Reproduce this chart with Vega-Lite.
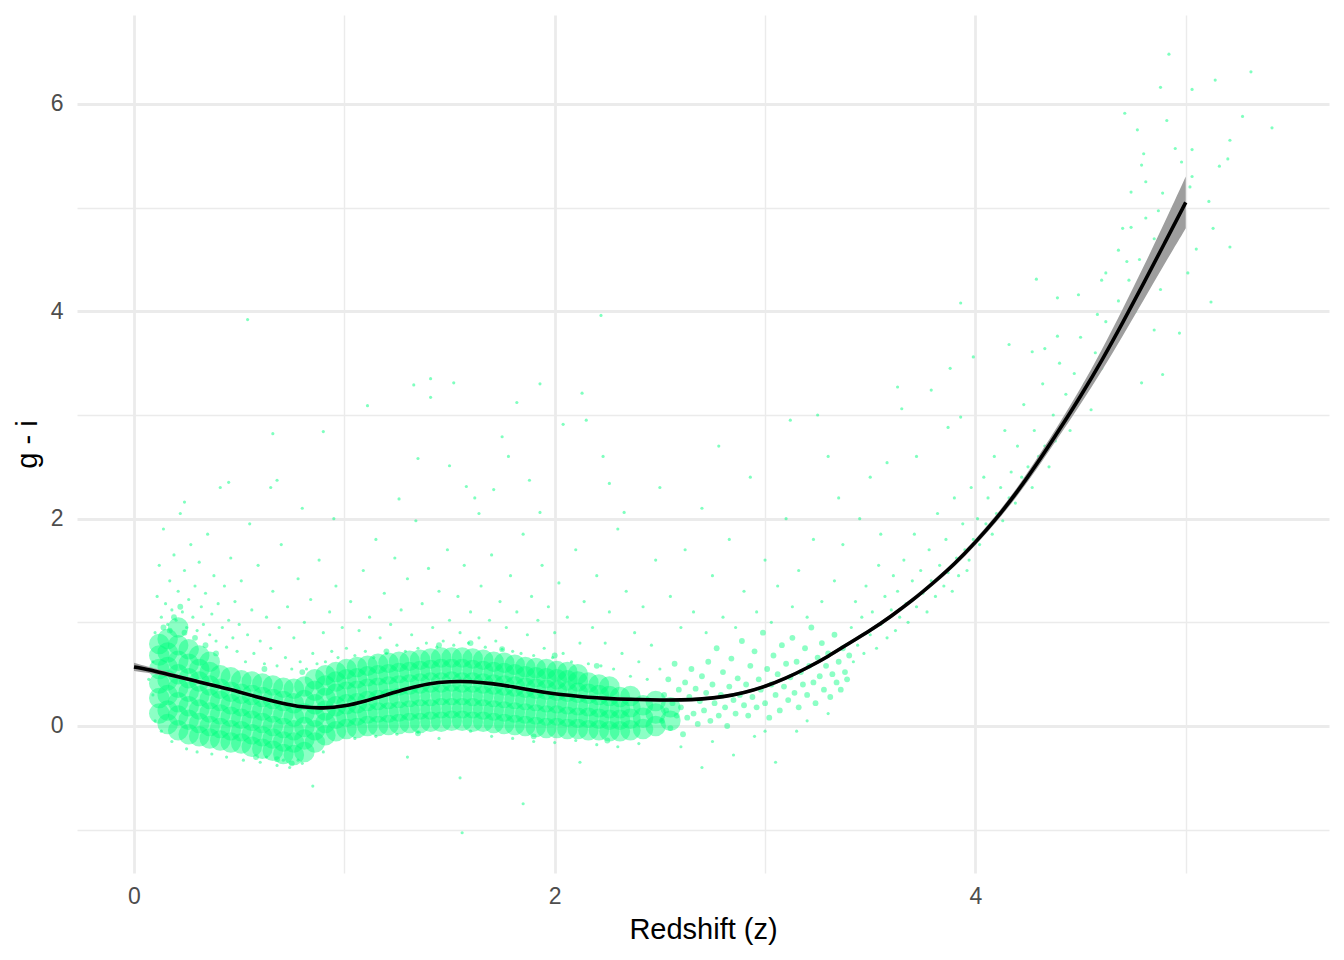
{
"$schema":"https://vega.github.io/schema/vega-lite/v6.json",
"width":1252,"height":858,
"autosize":{"type":"none"},
"padding":{"left":77,"top":15,"right":15,"bottom":87},
"background":"white",
"config":{"view":{"stroke":null},"font":"Liberation Sans"},
"datasets":{
"scatter":[
{"z":0.09,"gi":0.62},{"z":0.1,"gi":0.9},{"z":0.11,"gi":1.25},{"z":0.12,"gi":1.55},{"z":0.13,"gi":1.05},{"z":0.14,"gi":1.9},{"z":0.15,"gi":1.18},{"z":0.16,"gi":0.98},{"z":0.17,"gi":1.4},{"z":0.18,"gi":1.12},{"z":0.19,"gi":1.65},{"z":0.2,"gi":1.02},{"z":0.21,"gi":1.3},{"z":0.22,"gi":2.05},{"z":0.23,"gi":1.1},{"z":0.24,"gi":1.5},{"z":0.25,"gi":0.95},{"z":0.26,"gi":1.22},{"z":0.27,"gi":1.75},{"z":0.28,"gi":1.05},{"z":0.29,"gi":1.35},{"z":0.3,"gi":0.92},{"z":0.31,"gi":1.58},{"z":0.32,"gi":1.15},{"z":0.33,"gi":0.98},{"z":0.34,"gi":1.28},{"z":0.35,"gi":1.85},{"z":0.36,"gi":0.88},{"z":0.37,"gi":1.08},{"z":0.38,"gi":1.45},{"z":0.39,"gi":0.82},{"z":0.4,"gi":1.18},{"z":0.41,"gi":2.3},{"z":0.42,"gi":0.95},{"z":0.43,"gi":1.35},{"z":0.44,"gi":0.76},{"z":0.45,"gi":1.02},{"z":0.46,"gi":1.62},{"z":0.47,"gi":0.85},{"z":0.48,"gi":1.2},{"z":0.49,"gi":0.72},{"z":0.5,"gi":0.98},
{"z":0.13,"gi":-0.05},{"z":0.18,"gi":-0.15},{"z":0.25,"gi":-0.22},{"z":0.3,"gi":-0.25},{"z":0.37,"gi":-0.27},{"z":0.44,"gi":-0.3},{"z":0.09,"gi":0.3},{"z":0.07,"gi":0.45},{"z":0.1,"gi":0.05},
{"z":0.51,"gi":1.4},{"z":0.53,"gi":0.62},{"z":0.54,"gi":0.88},{"z":0.56,"gi":1.12},{"z":0.57,"gi":0.7},{"z":0.59,"gi":1.55},{"z":0.6,"gi":0.82},{"z":0.62,"gi":0.6},{"z":0.63,"gi":1.05},{"z":0.65,"gi":0.75},{"z":0.66,"gi":1.3},{"z":0.68,"gi":0.58},{"z":0.69,"gi":0.95},{"z":0.7,"gi":1.75},{"z":0.72,"gi":0.66},{"z":0.73,"gi":1.15},{"z":0.75,"gi":0.55},{"z":0.76,"gi":0.85},{"z":0.78,"gi":1.42},{"z":0.79,"gi":0.62},{"z":0.81,"gi":1.0},{"z":0.82,"gi":0.55},{"z":0.84,"gi":1.22},{"z":0.85,"gi":0.7},{"z":0.87,"gi":0.6},{"z":0.88,"gi":1.6},{"z":0.9,"gi":0.9},{"z":0.91,"gi":0.62},{"z":0.93,"gi":1.1},{"z":0.94,"gi":0.72},{"z":0.96,"gi":1.35},{"z":0.97,"gi":0.66},{"z":0.99,"gi":0.95},{"z":0.65,"gi":2.3},{"z":0.8,"gi":2.1},{"z":0.55,"gi":1.95},{"z":0.95,"gi":2.0},
{"z":0.52,"gi":-0.33},{"z":0.6,"gi":-0.35},{"z":0.68,"gi":-0.38},{"z":0.74,"gi":-0.4},{"z":0.8,"gi":-0.36},{"z":0.85,"gi":-0.58},{"z":0.9,"gi":-0.25},{"z":0.63,"gi":-0.3},{"z":0.71,"gi":-0.33},{"z":0.78,"gi":-0.33},
{"z":1.01,"gi":0.75},{"z":1.03,"gi":1.2},{"z":1.05,"gi":0.68},{"z":1.07,"gi":0.92},{"z":1.09,"gi":1.5},{"z":1.1,"gi":0.72},{"z":1.12,"gi":1.05},{"z":1.14,"gi":0.66},{"z":1.15,"gi":1.8},{"z":1.17,"gi":0.85},{"z":1.19,"gi":1.28},{"z":1.2,"gi":0.7},{"z":1.22,"gi":0.98},{"z":1.24,"gi":1.62},{"z":1.25,"gi":0.78},{"z":1.27,"gi":1.12},{"z":1.29,"gi":0.72},{"z":1.3,"gi":1.42},{"z":1.32,"gi":0.88},{"z":1.34,"gi":1.98},{"z":1.35,"gi":0.75},{"z":1.37,"gi":1.18},{"z":1.39,"gi":0.8},{"z":1.4,"gi":1.52},{"z":1.42,"gi":0.95},{"z":1.44,"gi":0.76},{"z":1.45,"gi":1.3},{"z":1.47,"gi":0.82},{"z":1.49,"gi":1.7},{"z":1.5,"gi":1.02},{"z":1.52,"gi":0.78},{"z":1.54,"gi":1.25},{"z":1.55,"gi":0.9},{"z":1.57,"gi":1.55},{"z":1.59,"gi":0.8},{"z":1.6,"gi":1.1},{"z":1.62,"gi":2.2},{"z":1.64,"gi":0.85},{"z":1.65,"gi":1.35},{"z":1.67,"gi":0.76},{"z":1.69,"gi":1.02},{"z":1.7,"gi":1.65},{"z":1.72,"gi":0.82},{"z":1.74,"gi":1.2},{"z":1.75,"gi":0.74},{"z":1.77,"gi":0.95},{"z":1.79,"gi":1.45},{"z":1.8,"gi":0.72},{"z":1.82,"gi":1.1},{"z":1.84,"gi":0.7},{"z":1.85,"gi":1.85},{"z":1.87,"gi":0.88},{"z":1.89,"gi":1.25},{"z":1.9,"gi":0.68},{"z":1.92,"gi":1.02},{"z":1.94,"gi":1.55},{"z":1.95,"gi":0.75},{"z":1.97,"gi":1.15},{"z":1.99,"gi":0.66},{"z":2.0,"gi":0.9},{"z":2.02,"gi":1.38},{"z":2.04,"gi":0.7},{"z":2.06,"gi":1.05},{"z":2.08,"gi":0.62},{"z":2.1,"gi":1.7},{"z":2.12,"gi":0.8},{"z":2.14,"gi":1.2},{"z":2.16,"gi":0.6},{"z":2.18,"gi":0.95},{"z":2.2,"gi":1.45},{"z":2.22,"gi":0.58},{"z":2.24,"gi":0.8},{"z":2.26,"gi":1.1},{"z":2.28,"gi":0.55},{"z":2.3,"gi":1.9},{"z":2.32,"gi":0.7},{"z":2.34,"gi":1.3},{"z":2.36,"gi":0.48},{"z":2.38,"gi":0.9},{"z":2.4,"gi":0.62},{"z":2.42,"gi":1.15},{"z":2.44,"gi":0.45},{"z":2.46,"gi":0.78},{"z":2.48,"gi":1.6},{"z":2.5,"gi":0.55},
{"z":1.05,"gi":-0.12},{"z":1.15,"gi":-0.1},{"z":1.25,"gi":-0.08},{"z":1.35,"gi":-0.06},{"z":1.45,"gi":-0.12},{"z":1.55,"gi":-0.5},{"z":1.6,"gi":-0.05},{"z":1.7,"gi":-0.1},{"z":1.8,"gi":-0.12},{"z":1.9,"gi":-0.15},{"z":2.0,"gi":-0.16},{"z":2.1,"gi":-0.14},{"z":2.2,"gi":-0.18},{"z":2.3,"gi":-0.2},{"z":1.85,"gi":-0.75},{"z":2.4,"gi":-0.17},{"z":1.56,"gi":-1.03},{"z":2.12,"gi":-0.35},{"z":1.3,"gi":-0.3},
{"z":0.54,"gi":3.92},{"z":0.66,"gi":2.82},{"z":0.9,"gi":2.84},{"z":0.45,"gi":2.35},{"z":0.68,"gi":2.37},{"z":0.24,"gi":2.16},{"z":1.33,"gi":3.29},{"z":1.41,"gi":3.35},{"z":1.52,"gi":3.31},{"z":1.41,"gi":3.17},{"z":1.11,"gi":3.09},{"z":1.82,"gi":3.12},{"z":1.93,"gi":3.3},{"z":2.22,"gi":3.96},{"z":2.13,"gi":3.21},{"z":1.75,"gi":2.79},{"z":1.78,"gi":2.6},{"z":1.35,"gi":2.58},{"z":1.5,"gi":2.51},{"z":1.88,"gi":2.37},{"z":2.26,"gi":2.34},{"z":1.58,"gi":2.31},{"z":1.71,"gi":2.28},{"z":1.26,"gi":2.19},{"z":1.64,"gi":2.05},{"z":1.93,"gi":2.06},{"z":2.04,"gi":2.91},{"z":2.15,"gi":2.95},{"z":2.23,"gi":2.6},{"z":2.33,"gi":2.06},
{"z":2.55,"gi":1.25},{"z":2.6,"gi":0.95},{"z":2.62,"gi":1.7},{"z":2.66,"gi":1.1},{"z":2.7,"gi":2.1},{"z":2.72,"gi":0.9},{"z":2.75,"gi":1.45},{"z":2.8,"gi":1.05},{"z":2.83,"gi":1.8},{"z":2.86,"gi":0.95},{"z":2.9,"gi":1.3},{"z":2.93,"gi":2.4},{"z":2.96,"gi":1.1},{"z":3.0,"gi":1.6},{"z":3.03,"gi":1.0},{"z":3.06,"gi":1.35},{"z":3.1,"gi":2.0},{"z":3.13,"gi":1.15},{"z":3.16,"gi":1.5},{"z":3.2,"gi":1.05},{"z":3.23,"gi":1.8},{"z":3.27,"gi":1.2},{"z":3.3,"gi":2.6},{"z":3.33,"gi":1.4},{"z":3.37,"gi":1.75},{"z":3.12,"gi":2.95},{"z":2.78,"gi":2.7},{"z":3.25,"gi":3.0},{"z":2.5,"gi":2.3},{"z":3.45,"gi":2.0},{"z":3.5,"gi":2.4},{"z":3.55,"gi":1.85},{"z":3.35,"gi":2.2},
{"z":2.6,"gi":-0.2},{"z":2.75,"gi":-0.15},{"z":2.95,"gi":-0.1},{"z":3.15,"gi":-0.05},{"z":2.85,"gi":-0.28},{"z":3.05,"gi":-0.35},{"z":2.7,"gi":-0.4},{"z":3.2,"gi":0.05},{"z":3.3,"gi":0.12},{"z":3.0,"gi":-0.05},
{"z":3.41,"gi":0.95},{"z":3.42,"gi":0.62},{"z":3.43,"gi":1.2},{"z":3.44,"gi":0.78},{"z":3.46,"gi":1.05},{"z":3.47,"gi":0.7},{"z":3.48,"gi":1.35},{"z":3.5,"gi":0.88},{"z":3.51,"gi":1.1},{"z":3.53,"gi":0.75},{"z":3.54,"gi":1.55},{"z":3.55,"gi":0.98},{"z":3.57,"gi":1.25},{"z":3.58,"gi":0.85},{"z":3.6,"gi":1.12},{"z":3.61,"gi":1.45},{"z":3.62,"gi":0.92},
{"z":3.63,"gi":1.3},{"z":3.64,"gi":1.05},{"z":3.66,"gi":1.6},{"z":3.67,"gi":1.18},{"z":3.68,"gi":1.0},{"z":3.7,"gi":1.4},{"z":3.71,"gi":1.85},{"z":3.72,"gi":1.15},{"z":3.74,"gi":1.5},{"z":3.75,"gi":1.28},{"z":3.77,"gi":1.1},{"z":3.78,"gi":1.7},{"z":3.79,"gi":1.4},{"z":3.81,"gi":1.25},{"z":3.82,"gi":2.05},{"z":3.83,"gi":1.55},{"z":3.85,"gi":1.35},{"z":3.86,"gi":1.8},{"z":3.87,"gi":1.48},{"z":3.89,"gi":1.3},{"z":3.9,"gi":2.2},{"z":3.91,"gi":1.62},{"z":3.92,"gi":1.45},{"z":3.94,"gi":1.95},{"z":3.95,"gi":1.7},{"z":3.96,"gi":1.5},{"z":3.98,"gi":2.3},{"z":3.99,"gi":1.8},{"z":3.97,"gi":1.6},
{"z":4.01,"gi":2.0},{"z":4.02,"gi":1.75},{"z":4.04,"gi":2.4},{"z":4.05,"gi":1.95},{"z":4.06,"gi":2.2},{"z":4.08,"gi":1.85},{"z":4.09,"gi":2.6},{"z":4.1,"gi":2.05},{"z":4.12,"gi":2.3},{"z":4.13,"gi":1.98},{"z":4.14,"gi":2.85},{"z":4.16,"gi":2.2},{"z":4.17,"gi":2.45},{"z":4.19,"gi":2.15},{"z":4.2,"gi":2.7},{"z":4.22,"gi":2.4},{"z":4.23,"gi":3.1},{"z":4.25,"gi":2.5},{"z":4.27,"gi":2.3},{"z":4.28,"gi":2.85},{"z":4.3,"gi":2.6},{"z":4.32,"gi":3.3},{"z":4.33,"gi":2.7},{"z":4.35,"gi":2.5},{"z":4.37,"gi":3.0},{"z":4.38,"gi":2.75},{"z":4.4,"gi":3.5},{"z":4.42,"gi":2.95},{"z":4.43,"gi":3.2},{"z":4.45,"gi":2.85},{"z":4.47,"gi":3.4},{"z":4.48,"gi":3.1},{"z":4.5,"gi":3.75},
{"z":4.52,"gi":3.3},{"z":4.55,"gi":3.05},{"z":4.57,"gi":3.6},{"z":4.6,"gi":3.45},{"z":4.62,"gi":3.9},{"z":4.65,"gi":3.7},{"z":4.68,"gi":4.1},{"z":4.7,"gi":3.85},{"z":4.73,"gi":4.3},{"z":4.76,"gi":4.0},{"z":4.78,"gi":4.5},{"z":4.82,"gi":4.35},{"z":4.85,"gi":4.7},{"z":4.9,"gi":4.5},{"z":4.93,"gi":4.95},{"z":4.97,"gi":4.8},{"z":5.02,"gi":5.2},{"z":5.05,"gi":4.6},
{"z":4.92,"gi":6.48},{"z":4.88,"gi":6.16},{"z":5.14,"gi":6.23},{"z":5.31,"gi":6.31},{"z":5.03,"gi":6.14},{"z":4.71,"gi":5.91},{"z":4.77,"gi":5.75},{"z":4.91,"gi":5.84},{"z":5.27,"gi":5.88},{"z":5.41,"gi":5.77},{"z":4.95,"gi":5.57},{"z":5.03,"gi":5.56},{"z":5.21,"gi":5.65},{"z":4.8,"gi":5.52},{"z":5.2,"gi":5.47},{"z":5.16,"gi":5.4},{"z":4.79,"gi":5.41},{"z":4.98,"gi":5.44},{"z":5.03,"gi":5.3},{"z":4.81,"gi":5.25},{"z":4.74,"gi":5.15},{"z":4.89,"gi":5.14},{"z":5.11,"gi":5.06},{"z":4.87,"gi":4.97},{"z":4.81,"gi":4.9},{"z":5.13,"gi":4.8},{"z":4.74,"gi":4.81},{"z":4.7,"gi":4.8},{"z":5.21,"gi":4.62},{"z":4.68,"gi":4.59},{"z":4.72,"gi":4.48},{"z":4.62,"gi":4.37},{"z":4.88,"gi":4.5},{"z":5.01,"gi":4.37},{"z":4.84,"gi":4.3},{"z":4.6,"gi":4.3},{"z":4.29,"gi":4.31},{"z":4.49,"gi":4.16},{"z":4.39,"gi":4.13},{"z":4.88,"gi":4.21},{"z":5.12,"gi":4.09},{"z":3.93,"gi":4.08},{"z":4.85,"gi":3.82},{"z":4.97,"gi":3.79},{"z":4.58,"gi":3.97},{"z":4.39,"gi":3.76},{"z":4.16,"gi":3.68},{"z":4.27,"gi":3.61},{"z":4.33,"gi":3.64},{"z":3.88,"gi":3.45},{"z":3.63,"gi":3.27},{"z":3.79,"gi":3.24},{"z":3.65,"gi":3.06},{"z":3.99,"gi":3.56},{"z":3.93,"gi":2.98},{"z":3.87,"gi":2.88},{"z":3.72,"gi":2.6},{"z":3.58,"gi":2.54},{"z":4.89,"gi":3.39},{"z":4.79,"gi":3.31}
],
"mid":[
{"z":2.51,"gi":0.05},{"z":2.52,"gi":0.3},{"z":2.53,"gi":0.15},{"z":2.54,"gi":0.45},{"z":2.55,"gi":-0.02},{"z":2.56,"gi":0.22},{"z":2.57,"gi":0.6},{"z":2.58,"gi":0.1},{"z":2.59,"gi":0.35},{"z":2.6,"gi":0.18},{"z":2.61,"gi":-0.08},{"z":2.62,"gi":0.42},{"z":2.63,"gi":0.08},{"z":2.64,"gi":0.28},{"z":2.65,"gi":0.55},{"z":2.66,"gi":0.12},{"z":2.67,"gi":0.36},{"z":2.68,"gi":0.02},{"z":2.69,"gi":0.24},{"z":2.7,"gi":0.48},
{"z":2.71,"gi":0.15},{"z":2.72,"gi":0.32},{"z":2.73,"gi":0.62},{"z":2.74,"gi":0.05},{"z":2.75,"gi":0.4},{"z":2.76,"gi":0.22},{"z":2.77,"gi":0.75},{"z":2.78,"gi":0.1},{"z":2.79,"gi":0.3},{"z":2.8,"gi":0.52},{"z":2.81,"gi":0.18},{"z":2.82,"gi":0.0},{"z":2.83,"gi":0.38},{"z":2.84,"gi":0.65},{"z":2.85,"gi":0.25},{"z":2.86,"gi":0.12},{"z":2.87,"gi":0.46},{"z":2.88,"gi":0.3},{"z":2.89,"gi":0.82},{"z":2.9,"gi":0.2},
{"z":2.91,"gi":0.4},{"z":2.92,"gi":0.1},{"z":2.93,"gi":0.58},{"z":2.94,"gi":0.28},{"z":2.95,"gi":0.72},{"z":2.96,"gi":0.18},{"z":2.97,"gi":0.45},{"z":2.98,"gi":0.35},{"z":2.99,"gi":0.9},{"z":3.0,"gi":0.22},{"z":3.01,"gi":0.55},{"z":3.02,"gi":0.08},{"z":3.03,"gi":0.4},{"z":3.04,"gi":0.68},{"z":3.05,"gi":0.3},{"z":3.06,"gi":0.5},{"z":3.07,"gi":0.15},{"z":3.08,"gi":0.78},{"z":3.09,"gi":0.38},{"z":3.1,"gi":0.6},
{"z":3.11,"gi":0.25},{"z":3.12,"gi":0.47},{"z":3.13,"gi":0.85},{"z":3.14,"gi":0.32},{"z":3.15,"gi":0.62},{"z":3.16,"gi":0.18},{"z":3.17,"gi":0.52},{"z":3.18,"gi":0.4},{"z":3.19,"gi":0.75},{"z":3.2,"gi":0.3},{"z":3.21,"gi":0.58},{"z":3.22,"gi":0.95},{"z":3.23,"gi":0.42},{"z":3.24,"gi":0.22},{"z":3.25,"gi":0.66},{"z":3.26,"gi":0.48},{"z":3.27,"gi":0.8},{"z":3.28,"gi":0.35},{"z":3.29,"gi":0.58},{"z":3.3,"gi":0.7},{"z":3.31,"gi":0.28},{"z":3.32,"gi":0.5},{"z":3.33,"gi":0.88},{"z":3.34,"gi":0.42},{"z":3.35,"gi":0.62},{"z":3.36,"gi":0.35},{"z":3.37,"gi":0.75},{"z":3.38,"gi":0.52},{"z":3.39,"gi":0.45},{"z":3.4,"gi":0.68},
{"z":0.14,"gi":0.95},{"z":0.19,"gi":1.05},{"z":0.24,"gi":0.9},{"z":0.29,"gi":0.85},{"z":0.34,"gi":0.78},{"z":0.39,"gi":0.7},{"z":0.22,"gi":1.15},{"z":0.17,"gi":0.92},{"z":0.58,"gi":-0.3},{"z":0.68,"gi":-0.32},{"z":0.75,"gi":-0.36},{"z":0.62,"gi":0.55},{"z":0.8,"gi":0.52},{"z":1.2,"gi":0.72},{"z":1.45,"gi":0.78},{"z":1.6,"gi":0.8},{"z":1.75,"gi":0.74},{"z":2.0,"gi":0.68},{"z":2.2,"gi":0.58},{"z":1.35,"gi":-0.07},{"z":1.9,"gi":-0.1},{"z":2.25,"gi":-0.14}
],
"core":[
{"z":0.12,"gi":0.12},{"z":0.12,"gi":0.27},{"z":0.12,"gi":0.41},{"z":0.12,"gi":0.55},{"z":0.12,"gi":0.68},{"z":0.12,"gi":0.79},
{"z":0.16,"gi":0.02},{"z":0.16,"gi":0.15},{"z":0.16,"gi":0.3},{"z":0.16,"gi":0.44},{"z":0.16,"gi":0.57},{"z":0.16,"gi":0.71},{"z":0.16,"gi":0.84},
{"z":0.21,"gi":-0.04},{"z":0.21,"gi":0.1},{"z":0.21,"gi":0.23},{"z":0.21,"gi":0.37},{"z":0.21,"gi":0.5},{"z":0.21,"gi":0.63},{"z":0.21,"gi":0.78},{"z":0.21,"gi":0.95},
{"z":0.26,"gi":-0.08},{"z":0.26,"gi":0.06},{"z":0.26,"gi":0.19},{"z":0.26,"gi":0.33},{"z":0.26,"gi":0.46},{"z":0.26,"gi":0.6},{"z":0.26,"gi":0.74},
{"z":0.31,"gi":-0.1},{"z":0.31,"gi":0.03},{"z":0.31,"gi":0.16},{"z":0.31,"gi":0.29},{"z":0.31,"gi":0.43},{"z":0.31,"gi":0.55},{"z":0.31,"gi":0.68},
{"z":0.36,"gi":-0.12},{"z":0.36,"gi":0.0},{"z":0.36,"gi":0.13},{"z":0.36,"gi":0.26},{"z":0.36,"gi":0.39},{"z":0.36,"gi":0.52},{"z":0.36,"gi":0.62},
{"z":0.41,"gi":-0.14},{"z":0.41,"gi":-0.02},{"z":0.41,"gi":0.11},{"z":0.41,"gi":0.24},{"z":0.41,"gi":0.36},{"z":0.41,"gi":0.49},
{"z":0.46,"gi":-0.16},{"z":0.46,"gi":-0.04},{"z":0.46,"gi":0.09},{"z":0.46,"gi":0.21},{"z":0.46,"gi":0.33},{"z":0.46,"gi":0.47},
{"z":0.51,"gi":-0.17},{"z":0.51,"gi":-0.05},{"z":0.51,"gi":0.07},{"z":0.51,"gi":0.19},{"z":0.51,"gi":0.31},{"z":0.51,"gi":0.44},
{"z":0.56,"gi":-0.2},{"z":0.56,"gi":-0.08},{"z":0.56,"gi":0.05},{"z":0.56,"gi":0.17},{"z":0.56,"gi":0.3},{"z":0.56,"gi":0.43},
{"z":0.61,"gi":-0.22},{"z":0.61,"gi":-0.1},{"z":0.61,"gi":0.03},{"z":0.61,"gi":0.15},{"z":0.61,"gi":0.28},{"z":0.61,"gi":0.41},
{"z":0.66,"gi":-0.24},{"z":0.66,"gi":-0.12},{"z":0.66,"gi":0.0},{"z":0.66,"gi":0.13},{"z":0.66,"gi":0.26},{"z":0.66,"gi":0.39},
{"z":0.71,"gi":-0.27},{"z":0.71,"gi":-0.15},{"z":0.71,"gi":-0.02},{"z":0.71,"gi":0.11},{"z":0.71,"gi":0.24},{"z":0.71,"gi":0.37},
{"z":0.76,"gi":-0.28},{"z":0.76,"gi":-0.16},{"z":0.76,"gi":-0.04},{"z":0.76,"gi":0.09},{"z":0.76,"gi":0.22},{"z":0.76,"gi":0.36},
{"z":0.81,"gi":-0.25},{"z":0.81,"gi":-0.13},{"z":0.81,"gi":-0.01},{"z":0.81,"gi":0.12},{"z":0.81,"gi":0.25},{"z":0.81,"gi":0.38},
{"z":0.86,"gi":-0.16},{"z":0.86,"gi":-0.04},{"z":0.86,"gi":0.09},{"z":0.86,"gi":0.21},{"z":0.86,"gi":0.34},{"z":0.86,"gi":0.45},
{"z":0.91,"gi":-0.09},{"z":0.91,"gi":0.03},{"z":0.91,"gi":0.15},{"z":0.91,"gi":0.27},{"z":0.91,"gi":0.39},{"z":0.91,"gi":0.49},
{"z":0.96,"gi":-0.05},{"z":0.96,"gi":0.07},{"z":0.96,"gi":0.19},{"z":0.96,"gi":0.31},{"z":0.96,"gi":0.43},{"z":0.96,"gi":0.52},
{"z":1.01,"gi":-0.03},{"z":1.01,"gi":0.09},{"z":1.01,"gi":0.21},{"z":1.01,"gi":0.33},{"z":1.01,"gi":0.45},{"z":1.01,"gi":0.55},
{"z":1.06,"gi":-0.02},{"z":1.06,"gi":0.1},{"z":1.06,"gi":0.22},{"z":1.06,"gi":0.34},{"z":1.06,"gi":0.46},{"z":1.06,"gi":0.57},
{"z":1.11,"gi":0.0},{"z":1.11,"gi":0.12},{"z":1.11,"gi":0.24},{"z":1.11,"gi":0.36},{"z":1.11,"gi":0.48},{"z":1.11,"gi":0.58},
{"z":1.16,"gi":0.0},{"z":1.16,"gi":0.13},{"z":1.16,"gi":0.25},{"z":1.16,"gi":0.37},{"z":1.16,"gi":0.49},{"z":1.16,"gi":0.6},
{"z":1.21,"gi":0.01},{"z":1.21,"gi":0.13},{"z":1.21,"gi":0.26},{"z":1.21,"gi":0.38},{"z":1.21,"gi":0.5},{"z":1.21,"gi":0.61},
{"z":1.26,"gi":0.02},{"z":1.26,"gi":0.14},{"z":1.26,"gi":0.27},{"z":1.26,"gi":0.39},{"z":1.26,"gi":0.51},{"z":1.26,"gi":0.62},
{"z":1.31,"gi":0.03},{"z":1.31,"gi":0.15},{"z":1.31,"gi":0.28},{"z":1.31,"gi":0.4},{"z":1.31,"gi":0.52},{"z":1.31,"gi":0.63},
{"z":1.36,"gi":0.03},{"z":1.36,"gi":0.16},{"z":1.36,"gi":0.29},{"z":1.36,"gi":0.41},{"z":1.36,"gi":0.53},{"z":1.36,"gi":0.64},
{"z":1.41,"gi":0.04},{"z":1.41,"gi":0.16},{"z":1.41,"gi":0.29},{"z":1.41,"gi":0.42},{"z":1.41,"gi":0.54},{"z":1.41,"gi":0.65},
{"z":1.46,"gi":0.04},{"z":1.46,"gi":0.17},{"z":1.46,"gi":0.3},{"z":1.46,"gi":0.42},{"z":1.46,"gi":0.55},{"z":1.46,"gi":0.66},
{"z":1.51,"gi":0.05},{"z":1.51,"gi":0.17},{"z":1.51,"gi":0.3},{"z":1.51,"gi":0.43},{"z":1.51,"gi":0.55},{"z":1.51,"gi":0.66},
{"z":1.56,"gi":0.05},{"z":1.56,"gi":0.17},{"z":1.56,"gi":0.3},{"z":1.56,"gi":0.42},{"z":1.56,"gi":0.55},{"z":1.56,"gi":0.66},
{"z":1.61,"gi":0.04},{"z":1.61,"gi":0.17},{"z":1.61,"gi":0.29},{"z":1.61,"gi":0.42},{"z":1.61,"gi":0.54},{"z":1.61,"gi":0.65},
{"z":1.66,"gi":0.04},{"z":1.66,"gi":0.16},{"z":1.66,"gi":0.29},{"z":1.66,"gi":0.41},{"z":1.66,"gi":0.53},{"z":1.66,"gi":0.64},
{"z":1.71,"gi":0.03},{"z":1.71,"gi":0.15},{"z":1.71,"gi":0.28},{"z":1.71,"gi":0.4},{"z":1.71,"gi":0.52},{"z":1.71,"gi":0.62},
{"z":1.76,"gi":0.02},{"z":1.76,"gi":0.14},{"z":1.76,"gi":0.27},{"z":1.76,"gi":0.39},{"z":1.76,"gi":0.51},{"z":1.76,"gi":0.61},
{"z":1.81,"gi":0.01},{"z":1.81,"gi":0.13},{"z":1.81,"gi":0.26},{"z":1.81,"gi":0.38},{"z":1.81,"gi":0.5},{"z":1.81,"gi":0.59},
{"z":1.86,"gi":0.0},{"z":1.86,"gi":0.12},{"z":1.86,"gi":0.25},{"z":1.86,"gi":0.37},{"z":1.86,"gi":0.48},{"z":1.86,"gi":0.57},
{"z":1.91,"gi":-0.01},{"z":1.91,"gi":0.11},{"z":1.91,"gi":0.24},{"z":1.91,"gi":0.36},{"z":1.91,"gi":0.47},{"z":1.91,"gi":0.56},
{"z":1.96,"gi":-0.02},{"z":1.96,"gi":0.1},{"z":1.96,"gi":0.23},{"z":1.96,"gi":0.35},{"z":1.96,"gi":0.46},{"z":1.96,"gi":0.55},
{"z":2.01,"gi":-0.02},{"z":2.01,"gi":0.1},{"z":2.01,"gi":0.22},{"z":2.01,"gi":0.34},{"z":2.01,"gi":0.45},{"z":2.01,"gi":0.53},
{"z":2.06,"gi":-0.03},{"z":2.06,"gi":0.09},{"z":2.06,"gi":0.21},{"z":2.06,"gi":0.33},{"z":2.06,"gi":0.44},{"z":2.06,"gi":0.52},
{"z":2.11,"gi":-0.03},{"z":2.11,"gi":0.08},{"z":2.11,"gi":0.2},{"z":2.11,"gi":0.32},{"z":2.11,"gi":0.43},{"z":2.11,"gi":0.5},
{"z":2.16,"gi":-0.04},{"z":2.16,"gi":0.08},{"z":2.16,"gi":0.19},{"z":2.16,"gi":0.31},{"z":2.16,"gi":0.42},
{"z":2.21,"gi":-0.04},{"z":2.21,"gi":0.07},{"z":2.21,"gi":0.18},{"z":2.21,"gi":0.3},{"z":2.21,"gi":0.4},
{"z":2.26,"gi":-0.05},{"z":2.26,"gi":0.06},{"z":2.26,"gi":0.17},{"z":2.26,"gi":0.29},{"z":2.26,"gi":0.38},
{"z":2.31,"gi":-0.05},{"z":2.31,"gi":0.06},{"z":2.31,"gi":0.17},{"z":2.31,"gi":0.28},
{"z":2.36,"gi":-0.04},{"z":2.36,"gi":0.07},{"z":2.36,"gi":0.18},{"z":2.36,"gi":0.29},
{"z":2.42,"gi":-0.03},{"z":2.42,"gi":0.08},{"z":2.42,"gi":0.2},
{"z":2.48,"gi":0.0},{"z":2.48,"gi":0.12},{"z":2.48,"gi":0.24},
{"z":2.55,"gi":0.05},{"z":2.55,"gi":0.18}
],
"smooth":[
{"z":0.0,"fit":0.57,"lo":0.53,"hi":0.61},{"z":0.1,"fit":0.53,"lo":0.505,"hi":0.555},{"z":0.2,"fit":0.48,"lo":0.46,"hi":0.5},{"z":0.3,"fit":0.43,"lo":0.415,"hi":0.445},{"z":0.4,"fit":0.38,"lo":0.366,"hi":0.394},{"z":0.5,"fit":0.33,"lo":0.317,"hi":0.343},{"z":0.6,"fit":0.27,"lo":0.257,"hi":0.283},{"z":0.7,"fit":0.22,"lo":0.207,"hi":0.233},{"z":0.8,"fit":0.18,"lo":0.167,"hi":0.193},{"z":0.9,"fit":0.17,"lo":0.157,"hi":0.183},
{"z":1.0,"fit":0.19,"lo":0.178,"hi":0.202},{"z":1.1,"fit":0.24,"lo":0.228,"hi":0.252},{"z":1.2,"fit":0.3,"lo":0.288,"hi":0.312},{"z":1.3,"fit":0.36,"lo":0.348,"hi":0.372},{"z":1.4,"fit":0.41,"lo":0.398,"hi":0.422},{"z":1.5,"fit":0.43,"lo":0.418,"hi":0.442},{"z":1.6,"fit":0.43,"lo":0.418,"hi":0.442},{"z":1.7,"fit":0.41,"lo":0.398,"hi":0.422},{"z":1.8,"fit":0.38,"lo":0.368,"hi":0.392},{"z":1.9,"fit":0.34,"lo":0.328,"hi":0.352},
{"z":2.0,"fit":0.31,"lo":0.298,"hi":0.322},{"z":2.1,"fit":0.29,"lo":0.278,"hi":0.302},{"z":2.2,"fit":0.27,"lo":0.258,"hi":0.282},{"z":2.3,"fit":0.26,"lo":0.247,"hi":0.273},{"z":2.4,"fit":0.255,"lo":0.242,"hi":0.268},{"z":2.5,"fit":0.25,"lo":0.236,"hi":0.264},{"z":2.6,"fit":0.25,"lo":0.236,"hi":0.264},{"z":2.7,"fit":0.26,"lo":0.245,"hi":0.275},{"z":2.8,"fit":0.28,"lo":0.265,"hi":0.295},{"z":2.9,"fit":0.32,"lo":0.304,"hi":0.336},
{"z":3.0,"fit":0.38,"lo":0.364,"hi":0.396},{"z":3.1,"fit":0.46,"lo":0.444,"hi":0.476},{"z":3.2,"fit":0.56,"lo":0.543,"hi":0.577},{"z":3.3,"fit":0.67,"lo":0.652,"hi":0.688},{"z":3.4,"fit":0.8,"lo":0.781,"hi":0.819},{"z":3.5,"fit":0.92,"lo":0.9,"hi":0.94},{"z":3.6,"fit":1.06,"lo":1.038,"hi":1.082},{"z":3.7,"fit":1.21,"lo":1.187,"hi":1.233},{"z":3.8,"fit":1.38,"lo":1.355,"hi":1.405},{"z":3.9,"fit":1.56,"lo":1.533,"hi":1.587},
{"z":4.0,"fit":1.77,"lo":1.74,"hi":1.8},{"z":4.1,"fit":2.0,"lo":1.965,"hi":2.035},{"z":4.2,"fit":2.26,"lo":2.22,"hi":2.3},{"z":4.3,"fit":2.55,"lo":2.5,"hi":2.6},{"z":4.4,"fit":2.86,"lo":2.8,"hi":2.92},{"z":4.5,"fit":3.18,"lo":3.105,"hi":3.255},{"z":4.6,"fit":3.52,"lo":3.42,"hi":3.62},{"z":4.7,"fit":3.89,"lo":3.76,"hi":4.02},{"z":4.8,"fit":4.27,"lo":4.11,"hi":4.43},{"z":4.9,"fit":4.66,"lo":4.46,"hi":4.86},{"z":5.0,"fit":5.05,"lo":4.8,"hi":5.3}
]
},
"layer":[
{"data":{"name":"scatter"},
 "mark":{"type":"circle","size":10,"opacity":0.5,"color":"#00FF7F"},
 "encoding":{
  "x":{"field":"z","type":"quantitative","title":"Redshift (z)","scale":{"domain":[-0.271,5.681],"nice":false,"zero":false},
   "axis":{"title":"Redshift (z)","values":[0,1,2,3,4,5],"format":"d","domain":false,"ticks":false,"tickSize":0,"grid":true,"gridColor":"#EBEBEB","gridWidth":{"condition":{"test":"datum.value % 2 !== 0","value":1.4},"value":2.8},"labelExpr":"datum.value % 2 === 0 ? datum.label : ''","labelFont":"Liberation Sans","labelFontSize":23,"labelColor":"#4D4D4D","labelBaseline":"alphabetic","labelPadding":30,"titleFont":"Liberation Sans","titleFontSize":29,"titleFontWeight":"normal","titleColor":"#000000","titleBaseline":"alphabetic","titleY":65,"titleX":626,"titleAlign":"center"}},
  "y":{"field":"gi","type":"quantitative","title":"g - i","scale":{"domain":[-1.418,6.858],"nice":false,"zero":false},
   "axis":{"title":"g - i","values":[-1,0,1,2,3,4,5,6],"format":"d","domain":false,"ticks":false,"tickSize":0,"grid":true,"gridColor":"#EBEBEB","gridWidth":{"condition":{"test":"datum.value % 2 !== 0","value":1.4},"value":2.8},"labelExpr":"datum.value % 2 === 0 ? datum.label : ''","labelFont":"Liberation Sans","labelFontSize":23,"labelColor":"#4D4D4D","labelPadding":14,"titleFont":"Liberation Sans","titleFontSize":29,"titleFontWeight":"normal","titleColor":"#000000","titleAngle":-90,"titleBaseline":"alphabetic","titleAlign":"center","titleX":-40.5,"titleY":429}}
 }},
{"data":{"name":"mid"},
 "mark":{"type":"circle","size":34,"opacity":0.45,"color":"#00FF7F"},
 "encoding":{"x":{"field":"z","type":"quantitative","title":"Redshift (z)"},"y":{"field":"gi","type":"quantitative","title":"g - i"}}},
{"data":{"name":"core"},
 "mark":{"type":"circle","size":420,"opacity":0.45,"color":"#00FF7F"},
 "encoding":{"x":{"field":"z","type":"quantitative","title":"Redshift (z)"},"y":{"field":"gi","type":"quantitative","title":"g - i"}}},
{"data":{"name":"smooth"},
 "mark":{"type":"area","color":"#9E9E9E","opacity":1,"interpolate":"basis"},
 "encoding":{"x":{"field":"z","type":"quantitative","title":"Redshift (z)"},"y":{"field":"lo","type":"quantitative","title":"g - i"},"y2":{"field":"hi"}}},
{"data":{"name":"smooth"},
 "mark":{"type":"line","color":"#000000","strokeWidth":3.6,"interpolate":"basis"},
 "encoding":{"x":{"field":"z","type":"quantitative","title":"Redshift (z)"},"y":{"field":"fit","type":"quantitative","title":"g - i"}}}
]
}
